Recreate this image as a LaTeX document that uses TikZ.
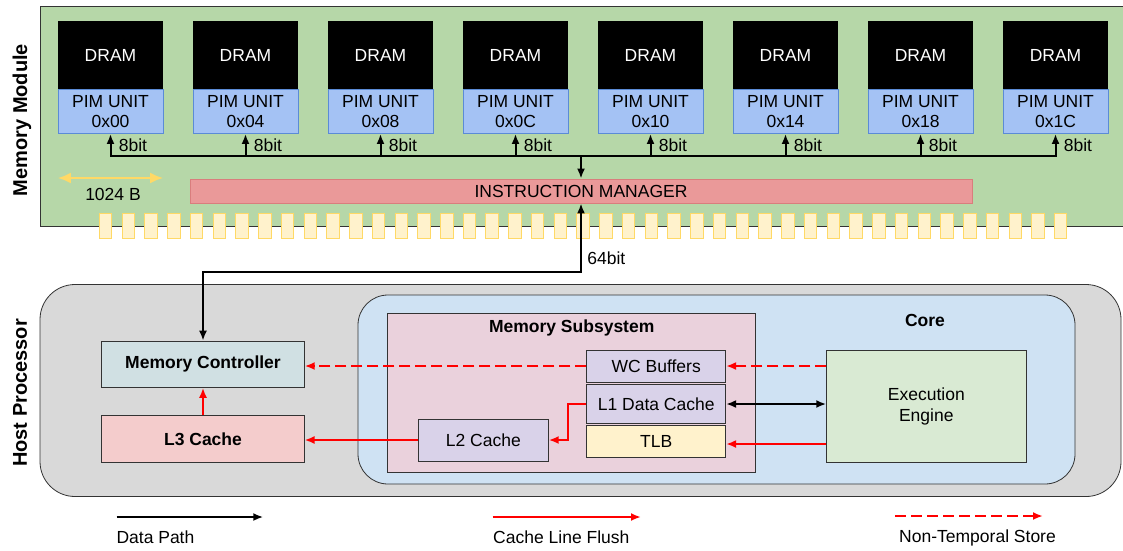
\documentclass[tikz,border=0pt]{standalone}
\usepackage{fontspec}
\setmainfont{Liberation Sans}
\usetikzlibrary{arrows.meta,positioning}

\definecolor{boardgreen}{HTML}{B6D7A8}
\definecolor{pimblue}{HTML}{A4C2F4}
\definecolor{pimedge}{HTML}{5B8BD6}
\definecolor{imred}{HTML}{EA9999}
\definecolor{imedge}{HTML}{D97D7D}
\definecolor{pinyellow}{HTML}{FFF2CC}
\definecolor{pinedge}{HTML}{FFD966}
\definecolor{hostgray}{HTML}{D9D9D9}
\definecolor{coreblue}{HTML}{CFE2F3}
\definecolor{subpink}{HTML}{EAD1DC}
\definecolor{cachelilac}{HTML}{D9D2E9}
\definecolor{engreen}{HTML}{D9EAD3}
\definecolor{mcteal}{HTML}{D0E0E3}
\definecolor{l3pink}{HTML}{F4CCCC}

\tikzset{
  every node/.style={font=\fontsize{17.5}{20.6}\selectfont},
  board/.style={draw=black!80, line width=0.8pt, fill=boardgreen},
  dram/.style={fill=black, text=white, minimum width=105, minimum height=68, inner sep=0pt},
  pimunit/.style={draw=pimedge, line width=0.8pt, fill=pimblue, minimum width=105, minimum height=44, inner sep=0pt, align=center},
  imgr/.style={draw=imedge, line width=0.8pt, fill=imred, minimum width=782, minimum height=24, inner sep=0pt},
  pin/.style={draw=pinedge, line width=0.8pt, fill=pinyellow},
  sizearrow/.style={draw=pinedge, line width=2.4pt},
  wire/.style={draw=black, line width=2pt},
  flush/.style={draw=red, line width=2pt},
  nts/.style={draw=red, line width=2pt, dash pattern=on 11pt off 5pt},
  hostbox/.style={draw=black!80, line width=0.8pt, fill=hostgray, rounded corners=35pt, minimum width=1081, minimum height=212, inner sep=0pt},
  corebox/.style={draw=black!80, line width=0.8pt, fill=coreblue, rounded corners=30pt, minimum width=717, minimum height=189, inner sep=0pt},
  subbox/.style={draw=black!80, line width=0.8pt, fill=subpink, minimum width=368, minimum height=159, inner sep=0pt},
  unit/.style={draw=black!80, line width=0.8pt, inner sep=0pt, align=center},
  title/.style={font=\fontsize{17.5}{20.6}\selectfont\bfseries},
  sidelabel/.style={rotate=90, font=\fontsize{20}{24}\selectfont\bfseries},
}

\begin{document}
\begin{tikzpicture}[x=1pt, y=-1pt, >={Latex[length=10pt,width=8pt]}]
  \useasboundingbox (0,0) rectangle (1123,550);

  % Memory module board
  \draw[board] (40,6.5) rectangle (1140,226);
  \node[sidelabel] (modlabel) at (22,120) {Memory Module};

  % DRAM chips and their PIM units
  \foreach \addr [count=\i from 0] in {00,04,08,0C,10,14,18,1C} {
    \node[dram] (dram\i) at (110.5+135*\i, 55) {DRAM};
    \node[pimunit] (pim\i) at (110.5+135*\i, 111.5) {PIM UNIT\\0x\addr};
  }

  % Internal bus
  \coordinate (busL) at (110.5,156);
  \coordinate (busR) at (1055.5,156);
  \draw[wire, line cap=rect] (busL) -- (busR);
  \foreach \i in {0,...,7}
    \draw[wire, ->] (pim\i.south |- busL) -- (pim\i.south) node[midway, right=4pt] {8bit};

  % Instruction manager
  \node[imgr] (im) at (581,191) {INSTRUCTION MANAGER};
  \draw[wire, ->] (im.north |- busL) -- (im.north);

  % Row size
  \coordinate (sizey) at (0,178);
  \draw[sizearrow, <->, >={Latex[length=13pt,width=11pt]}] (dram0.west |- sizey) -- (dram0.east |- sizey);
  \node (sizelbl) at (113,194) {1024 B};

  % Edge connector pins
  \foreach \k in {0,...,42}
    \draw[pin] (99.3+22.74*\k, 213) rectangle ++(12.5,25);

  % Host processor
  \node[hostbox] (host) at (580.5,390.5) {};
  \node[sidelabel] (hostlabel) at (20,393) {Host Processor};
  \node[corebox] (core) at (716.5,389.5) {};
  \node[title] (coretitle) at (925,320) {Core};
  \node[subbox] (msub) at (571.7,392.5) {};
  \node[title] (msubtitle) at (571.7,327.7) {Memory Subsystem};

  \node[unit, fill=cachelilac, minimum width=139, minimum height=32] (wc) at (656.2,366) {WC Buffers};
  \node[unit, fill=cachelilac, minimum width=139, minimum height=39] (l1) at (656.2,404) {L1 Data Cache};
  \node[unit, fill=pinyellow, minimum width=139, minimum height=32.4] (tlb) at (656.2,441.5) {TLB};
  \node[unit, fill=cachelilac, minimum width=130, minimum height=42] (l2) at (483.3,440) {L2 Cache};
  \node[unit, fill=engreen, minimum width=199.3, minimum height=111.6] (ee) at (926.3,406.5) {Execution\\Engine};
  \node[unit, fill=mcteal, minimum width=202.6, minimum height=46.3, font=\fontsize{17.5}{20.6}\selectfont\bfseries] (mc) at (203,364.2) {Memory Controller};
  \node[unit, fill=l3pink, minimum width=202.3, minimum height=46.6, font=\fontsize{17.5}{20.6}\selectfont\bfseries] (l3) at (203,439) {L3 Cache};

  % Paths inside the host
  \draw[nts, ->] (ee.west |- wc) -- (wc.east);
  \draw[nts, ->] (wc.west) -- (mc.east |- wc.west);
  \draw[wire, <->] (ee.west |- l1) -- (l1.east);
  \draw[flush, ->] ([yshift=-2.5pt]tlb.east -| ee.west) -- ([yshift=-2.5pt]tlb.east);
  \draw[flush, ->] (l1.west) -- ++(-18.4,0) |- (l2.east);
  \draw[flush, ->] (l2.west) -- (l3.east |- l2.west);
  \draw[flush, ->] (l3.north) -- (mc.south);

  % Memory channel
  \coordinate (jog) at (581,271.7);
  \draw[wire, <->] (mc.north) |- (jog) -- (im.south) node[pos=0.2, right=2pt] {64bit};

  % Legend
  \coordinate (dpA) at (116.7,517);
  \coordinate (dpB) at (263.3,517);
  \draw[wire, ->] (dpA) -- (dpB);
  \node[anchor=west] (dplbl) at (113,537) {Data Path};
  \coordinate (clfA) at (492.7,517);
  \coordinate (clfB) at (641,517);
  \draw[flush, ->] (clfA) -- (clfB);
  \node[anchor=west] (clflbl) at (489.7,537) {Cache Line Flush};
  \coordinate (ntsA) at (895,516);
  \coordinate (ntsB) at (1043,516);
  \draw[nts, ->] (ntsA) -- (ntsB);
  \node[anchor=west] (ntslbl) at (895.7,537.5) {Non-Temporal Store};
\end{tikzpicture}
\end{document}
